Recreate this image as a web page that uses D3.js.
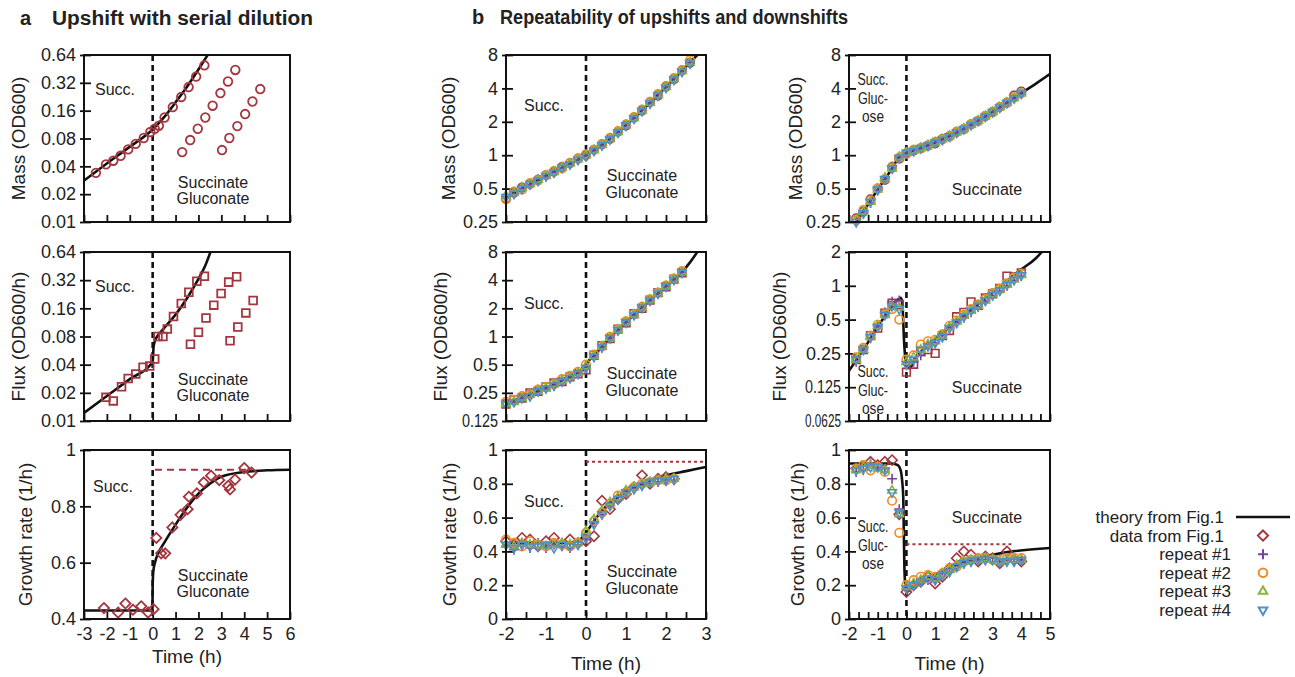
<!DOCTYPE html>
<html>
<head>
<meta charset="utf-8">
<script src="https://cdn.jsdelivr.net/npm/d3@7"></script>
<style>
  body { margin: 0; background: #fff; }
  text { font-family: "Liberation Sans", Arial, Helvetica, sans-serif; fill: #222; }
</style>
</head>
<body>
<svg id="fig" width="1295" height="677"></svg>
<script>
// ---------- panel a: upshift with serial dilution ----------
const aMassTime  = [-2.48,-2.04,-1.72,-1.40,-1.07,-0.74,-0.39,-0.10,0.09,0.27,0.52,0.88,1.25,1.57,1.90,2.26,
                    1.29,1.64,1.97,2.30,2.62,2.96,3.29,3.61,
                    3.03,3.35,3.70,4.04,4.36,4.70];
const aMassValue = [0.034,0.042,0.046,0.052,0.061,0.070,0.081,0.094,0.102,0.110,0.135,0.175,0.225,0.288,0.374,0.495,
                    0.057,0.077,0.102,0.135,0.181,0.248,0.331,0.441,
                    0.060,0.081,0.109,0.147,0.201,0.274];
const aMassTheoryT = [-3,-2,-1,0,0.5,1,1.5,2,2.5];
const aMassTheoryV = [0.028,0.043,0.065,0.10,0.136,0.197,0.29,0.446,0.70];

const aFluxTime  = [-2.04,-1.72,-1.36,-1.07,-0.74,-0.42,-0.13,0.09,0.23,0.45,0.64,0.91,1.25,1.58,1.93,2.26,
                    1.65,2.00,2.33,2.67,2.99,3.32,3.67,
                    3.38,3.72,4.07,4.39];
const aFluxValue = [0.0179,0.0164,0.0232,0.0285,0.0318,0.0375,0.0387,0.046,0.080,0.080,0.096,0.131,0.180,0.238,0.312,0.353,
                    0.066,0.089,0.126,0.173,0.230,0.305,0.348,
                    0.072,0.101,0.143,0.194];
const aFluxTheoryT = [-3,-2,-1,0,0.04,0.12,0.3,0.6,1,1.5,2,2.3,2.6];
const aFluxTheoryV = [0.0122,0.0185,0.028,0.043,0.062,0.074,0.086,0.105,0.137,0.205,0.33,0.46,0.72];

const aGrowthTime  = [-2.13,-1.51,-1.19,-0.86,-0.50,-0.20,0.04,0.16,0.37,0.55,0.86,1.22,1.53,1.58,1.93,2.23,2.55,2.91,3.30,3.38,3.60,4.00,4.32];
const aGrowthValue = [0.439,0.423,0.455,0.433,0.445,0.423,0.435,0.688,0.633,0.633,0.725,0.770,0.790,0.834,0.846,0.885,0.909,0.893,0.873,0.860,0.895,0.936,0.920];
const aGrowthTheoryT = [-3,-0.01,0,0.03,0.1,0.25,0.5,1,1.5,2,2.5,3,4,5,6];
const aGrowthTheoryV = [0.43,0.43,0.52,0.57,0.60,0.635,0.67,0.735,0.795,0.845,0.88,0.905,0.922,0.928,0.93];
const aTarget = { value: 0.93, from: 0.1, to: 4.35 };

// ---------- panel b, middle column: upshift repeats ----------
const bMassTime = [-2,-1.8,-1.6,-1.4,-1.2,-1,-0.8,-0.6,-0.4,-0.2,0,0.2,0.4,0.6,0.8,1,1.2,1.4,1.6,1.8,2,2.2,2.4,2.6];
const bMassData = [0.41,0.46,0.51,0.55,0.60,0.66,0.71,0.78,0.85,0.93,1.00,1.12,1.25,1.40,1.63,1.85,2.18,2.52,3.00,3.45,4.15,4.85,5.80,6.80];
const bMassRep1 = [0.42,0.45,0.50,0.54,0.61,0.64,0.70,0.77,0.83,0.91,0.99,1.10,1.23,1.42,1.60,1.88,2.15,2.55,2.95,3.52,4.10,4.90,5.70,6.90];
const bMassRep2 = [0.40,0.47,0.49,0.56,0.59,0.66,0.72,0.76,0.85,0.93,1.02,1.12,1.26,1.43,1.64,1.90,2.20,2.58,3.02,3.55,4.20,4.95,5.85,7.20];
const bMassRep3 = [0.43,0.46,0.51,0.55,0.60,0.65,0.71,0.78,0.84,0.92,1.00,1.11,1.24,1.40,1.62,1.86,2.16,2.53,2.97,3.48,4.12,4.86,5.75,6.85];
const bMassRep4 = [0.42,0.45,0.50,0.55,0.59,0.65,0.70,0.77,0.83,0.91,0.98,1.10,1.23,1.39,1.60,1.85,2.14,2.50,2.93,3.45,4.05,4.80,5.65,6.70];
const bMassTheoryT = [-2,-1,0,0.2,0.4,0.6,0.8,1,1.4,1.8,2.2,2.6,2.8];
const bMassTheoryV = [0.42,0.65,1.0,1.11,1.24,1.41,1.62,1.87,2.54,3.5,4.88,6.86,8.1];

const bFluxTime = [-2,-1.8,-1.6,-1.4,-1.2,-1,-0.8,-0.6,-0.4,-0.2,0,0.2,0.4,0.6,0.8,1,1.2,1.4,1.6,1.8,2,2.2,2.4];
const bFluxData = [0.19,0.21,0.22,0.25,0.26,0.29,0.32,0.33,0.37,0.40,0.44,0.63,0.80,0.95,1.20,1.40,1.75,2.00,2.45,2.95,3.40,4.10,4.80];
const bFluxRep1 = [0.18,0.20,0.22,0.24,0.27,0.28,0.30,0.34,0.36,0.41,0.47,0.60,0.76,0.96,1.16,1.42,1.70,2.06,2.42,2.88,3.45,4.05,4.85];
const bFluxRep2 = [0.20,0.21,0.23,0.24,0.27,0.29,0.31,0.35,0.38,0.42,0.50,0.64,0.79,0.99,1.19,1.45,1.74,2.08,2.50,2.95,3.50,4.15,5.00];
const bFluxRep3 = [0.19,0.20,0.22,0.24,0.26,0.28,0.31,0.34,0.37,0.41,0.48,0.62,0.78,0.97,1.18,1.43,1.72,2.05,2.45,2.90,3.45,4.10,4.90];
const bFluxRep4 = [0.19,0.20,0.22,0.23,0.26,0.28,0.30,0.33,0.36,0.40,0.46,0.61,0.77,0.96,1.17,1.41,1.70,2.03,2.43,2.88,3.42,4.05,4.80];
const bFluxTheoryT = [-2,-1,-0.5,-0.2,0,0.03,0.2,0.4,0.6,0.8,1,1.2,1.4,1.6,1.8,2,2.2,2.4,2.6,2.8];
const bFluxTheoryV = [0.19,0.285,0.355,0.41,0.46,0.52,0.62,0.78,0.97,1.18,1.42,1.72,2.05,2.45,2.9,3.45,4.1,4.9,6.2,8.2];

const bGrowthTime = [-2,-1.8,-1.6,-1.4,-1.2,-1,-0.8,-0.6,-0.4,-0.2,0,0.2,0.4,0.6,0.8,1,1.2,1.4,1.6,1.8,2,2.2];
const bGrowthData = [0.46,0.44,0.48,0.47,0.43,0.46,0.48,0.44,0.47,0.45,0.46,0.49,0.70,0.65,0.71,0.74,0.78,0.85,0.80,0.83,0.84,0.83];
const bGrowthRep1 = [0.43,0.41,0.44,0.42,0.45,0.42,0.44,0.43,0.42,0.44,0.47,0.57,0.62,0.67,0.72,0.75,0.77,0.79,0.80,0.81,0.82,0.82];
const bGrowthRep2 = [0.47,0.45,0.43,0.46,0.44,0.43,0.45,0.44,0.43,0.45,0.51,0.58,0.63,0.68,0.73,0.75,0.78,0.80,0.81,0.82,0.82,0.83];
const bGrowthRep3 = [0.44,0.43,0.45,0.44,0.44,0.43,0.44,0.45,0.44,0.45,0.52,0.59,0.64,0.69,0.72,0.76,0.78,0.80,0.81,0.82,0.83,0.83];
const bGrowthRep4 = [0.44,0.42,0.44,0.43,0.43,0.44,0.42,0.44,0.43,0.44,0.48,0.56,0.62,0.67,0.71,0.75,0.77,0.79,0.81,0.82,0.82,0.83];
const bGrowthTheoryT = [-2,-0.5,-0.3,-0.15,0,0.2,0.4,0.6,0.8,1,1.5,2,2.5,3];
const bGrowthTheoryV = [0.45,0.45,0.455,0.47,0.51,0.58,0.64,0.69,0.72,0.75,0.81,0.85,0.875,0.90];
const bTarget = { value: 0.93, from: 0, to: 3 };

// ---------- panel b, right column: downshift repeats ----------
const cTime = [-1.75,-1.5,-1.25,-1,-0.75,-0.5,-0.25,0,0.25,0.5,0.75,1,1.25,1.5,1.75,2,2.25,2.5,2.75,3,3.25,3.5,3.75,4];
const cMassData = [0.27,0.31,0.40,0.50,0.60,0.78,0.93,1.04,1.10,1.15,1.22,1.28,1.40,1.48,1.62,1.72,1.90,2.04,2.25,2.45,2.72,2.98,3.45,3.75];
const cMassRep1 = [0.25,0.30,0.37,0.48,0.63,0.79,0.97,1.06,1.11,1.17,1.24,1.31,1.38,1.50,1.60,1.74,1.87,2.05,2.22,2.47,2.68,2.95,3.25,3.55];
const cMassRep2 = [0.26,0.32,0.39,0.50,0.61,0.77,0.95,1.03,1.12,1.15,1.21,1.32,1.39,1.47,1.62,1.72,1.90,2.03,2.26,2.43,2.72,2.96,3.30,3.60];
const cMassRep3 = [0.26,0.31,0.38,0.49,0.62,0.76,0.96,1.05,1.10,1.16,1.23,1.30,1.39,1.49,1.61,1.73,1.88,2.05,2.24,2.46,2.70,2.97,3.28,3.62];
const cMassRep4 = [0.25,0.30,0.38,0.49,0.61,0.76,0.95,1.05,1.09,1.16,1.22,1.30,1.38,1.48,1.60,1.72,1.87,2.04,2.23,2.45,2.69,2.95,3.26,3.60];
const cMassTheoryT = [-1.8,-1.5,-1,-0.5,-0.25,-0.1,0,0.5,1,1.5,2,2.5,3,3.5,4,4.5,5];
const cMassTheoryV = [0.24,0.31,0.49,0.76,0.96,1.02,1.05,1.16,1.30,1.49,1.73,2.05,2.46,2.97,3.62,4.4,5.4];

const cFluxData = [0.22,0.27,0.36,0.42,0.57,0.70,0.68,0.17,0.20,0.26,0.27,0.25,0.36,0.40,0.53,0.58,0.72,0.67,0.78,0.85,0.95,1.22,1.20,1.30];
const cFluxRep1 = [0.21,0.27,0.34,0.44,0.58,0.72,0.74,0.20,0.21,0.24,0.30,0.31,0.36,0.42,0.47,0.52,0.58,0.65,0.73,0.82,0.90,1.00,1.12,1.22];
const cFluxRep2 = [0.23,0.28,0.36,0.45,0.56,0.62,0.50,0.22,0.24,0.30,0.32,0.33,0.37,0.44,0.49,0.55,0.62,0.68,0.76,0.86,0.94,1.05,1.18,1.28];
const cFluxRep3 = [0.22,0.27,0.35,0.44,0.55,0.65,0.64,0.21,0.23,0.27,0.30,0.32,0.36,0.43,0.48,0.54,0.60,0.67,0.74,0.84,0.92,1.02,1.14,1.25];
const cFluxRep4 = [0.22,0.27,0.35,0.43,0.55,0.66,0.62,0.20,0.22,0.27,0.29,0.31,0.35,0.42,0.47,0.53,0.60,0.66,0.74,0.83,0.91,1.02,1.13,1.24];
const cFluxTheoryT = [-2,-1.5,-1,-0.5,-0.3,-0.2,-0.15,-0.12,-0.09,-0.05,0,0.1,0.36,0.7,1.05,1.5,2,2.5,3,3.5,4,4.5,4.75];
const cFluxTheoryV = [0.175,0.27,0.43,0.66,0.75,0.78,0.72,0.55,0.35,0.24,0.19,0.185,0.235,0.29,0.35,0.43,0.54,0.69,0.88,1.1,1.4,1.75,2.05];

const cGrowthData = [0.89,0.90,0.93,0.91,0.93,0.94,0.62,0.16,0.20,0.22,0.25,0.21,0.25,0.30,0.36,0.40,0.38,0.34,0.37,0.36,0.33,0.40,0.35,0.34];
const cGrowthRep1 = [0.87,0.88,0.92,0.90,0.89,0.83,0.65,0.18,0.21,0.22,0.23,0.24,0.27,0.28,0.31,0.33,0.34,0.35,0.35,0.36,0.34,0.35,0.34,0.35];
const cGrowthRep2 = [0.89,0.91,0.88,0.90,0.87,0.70,0.51,0.20,0.23,0.25,0.26,0.25,0.27,0.30,0.31,0.34,0.35,0.36,0.36,0.35,0.35,0.36,0.36,0.36];
const cGrowthRep3 = [0.88,0.90,0.91,0.89,0.88,0.76,0.62,0.19,0.21,0.23,0.25,0.24,0.27,0.29,0.32,0.34,0.35,0.35,0.36,0.35,0.34,0.35,0.35,0.35];
const cGrowthRep4 = [0.88,0.89,0.90,0.90,0.88,0.75,0.63,0.18,0.20,0.22,0.24,0.23,0.26,0.28,0.31,0.33,0.34,0.35,0.35,0.35,0.34,0.34,0.34,0.35];
const cGrowthTheoryT = [-2,-0.5,-0.3,-0.2,-0.15,-0.11,-0.09,-0.07,-0.04,0,0.2,0.7,1.4,2.3,3,3.7,5];
const cGrowthTheoryV = [0.92,0.92,0.91,0.88,0.82,0.72,0.5,0.3,0.2,0.16,0.19,0.236,0.295,0.354,0.38,0.40,0.42];
const cTarget = { value: 0.443, from: 0, to: 3.67 };

const legendLabels = ['theory from Fig.1', 'data from Fig.1', 'repeat #1', 'repeat #2', 'repeat #3', 'repeat #4'];

// ---------- styles ----------
const RED = '#a3363f', PURPLE = '#7b3f9e', ORANGE = '#f28b26', GREEN = '#8ab43c', BLUE = '#4d92c9';
const FONT_TICK = 18, FONT_TITLE = 19, FONT_NOTE = 16;

const symbols = {
  circle: d3.symbol(d3.symbolCircle, 58),
  square: d3.symbol(d3.symbolSquare2, 76),
  diamond: d3.symbol(d3.symbolDiamond2, 66),
  plus: d3.symbol(d3.symbolPlus, 34),
  triUp: d3.symbol(d3.symbolTriangle2, 52),
  triDown: d3.symbol(d3.symbolTriangle2, 52)
};

const svg = d3.select('#fig');
svg.append('rect').attr('width', 1295).attr('height', 677).attr('fill', '#fff');

function repeats(t, data, dataShape, r1, r2, r3, r4) {
  return [
    { t: t, v: data, shape: dataShape, color: RED },
    { t: t, v: r1, shape: 'plus', color: PURPLE },
    { t: t, v: r2, shape: 'circle', color: ORANGE },
    { t: t, v: r3, shape: 'triUp', color: GREEN },
    { t: t, v: r4, shape: 'triDown', color: BLUE }
  ];
}

const COL = [{ left: 84, w: 206 }, { left: 506, w: 200 }, { left: 849, w: 201 }];
const ROW = [{ top: 55, h: 167 }, { top: 252, h: 169 }, { top: 450, h: 169 }];

const notesUpA = [{ text: 'Succ.', x: 11, y: 40, anchor: 'start' },
                  { text: 'Succinate', x: 129, y: 133 }, { text: 'Gluconate', x: 129, y: 149 }];
const notesUpB = (y0) => [{ text: 'Succ.', x: 18, y: y0, anchor: 'start' },
                  { text: 'Succinate', x: 136, y: y0 + 70 }, { text: 'Gluconate', x: 136, y: y0 + 87 }];
const notesDown = (y0, ys) => [{ text: 'Succ.', x: 24, y: y0, len: 31 }, { text: 'Gluc-', x: 24, y: y0 + 19, len: 30 },
                  { text: 'ose', x: 24, y: y0 + 37, len: 22 }, { text: 'Succinate', x: 138, y: ys }];

const panels = [
  { id: 'aMass', col: 0, row: 0, xDomain: [-3, 6], xStep: 1, log: true, yDomain: [0.01, 0.64],
    yTicks: [0.01,0.02,0.04,0.08,0.16,0.32,0.64], yTitle: 'Mass (OD600)', yTitleX: 18,
    theory: [aMassTheoryT, aMassTheoryV], series: [{ t: aMassTime, v: aMassValue, shape: 'circle', color: RED, big: true }],
    notes: notesUpA },
  { id: 'aFlux', col: 0, row: 1, xDomain: [-3, 6], xStep: 1, log: true, yDomain: [0.01, 0.64],
    yTicks: [0.01,0.02,0.04,0.08,0.16,0.32,0.64], yTitle: 'Flux (OD600/h)', yTitleX: 18,
    theory: [aFluxTheoryT, aFluxTheoryV], series: [{ t: aFluxTime, v: aFluxValue, shape: 'square', color: RED, big: true }],
    notes: notesUpA },
  { id: 'aGrowth', col: 0, row: 2, xDomain: [-3, 6], xStep: 1, log: false, yDomain: [0.4, 1],
    yTicks: [0.4,0.6,0.8,1], yTitle: 'Growth rate (1/h)', yTitleX: 25, xLabels: true, xTitleY: 663,
    theory: [aGrowthTheoryT, aGrowthTheoryV], series: [{ t: aGrowthTime, v: aGrowthValue, shape: 'diamond', color: RED, big: true }],
    target: aTarget, targetDash: '7,5',
    notes: [{ text: 'Succ.', x: 9, y: 42, anchor: 'start' }, { text: 'Succinate', x: 129, y: 131 }, { text: 'Gluconate', x: 129, y: 147 }] },

  { id: 'bMass', col: 1, row: 0, xDomain: [-2, 3], xStep: 0.5, log: true, yDomain: [0.25, 8],
    yTicks: [0.25,0.5,1,2,4,8], yTitle: 'Mass (OD600)', yTitleX: 448,
    theory: [bMassTheoryT, bMassTheoryV], series: repeats(bMassTime, bMassData, 'circle', bMassRep1, bMassRep2, bMassRep3, bMassRep4),
    notes: notesUpB(56) },
  { id: 'bFlux', col: 1, row: 1, xDomain: [-2, 3], xStep: 0.5, log: true, yDomain: [0.125, 8],
    yTicks: [0.125,0.25,0.5,1,2,4,8], yTitle: 'Flux (OD600/h)', yTitleX: 440,
    theory: [bFluxTheoryT, bFluxTheoryV], series: repeats(bFluxTime, bFluxData, 'square', bFluxRep1, bFluxRep2, bFluxRep3, bFluxRep4),
    notes: notesUpB(57) },
  { id: 'bGrowth', col: 1, row: 2, xDomain: [-2, 3], xStep: 0.5, log: false, yDomain: [0, 1],
    yTicks: [0,0.2,0.4,0.6,0.8,1], yTitle: 'Growth rate (1/h)', yTitleX: 449, xLabels: true, xTitleY: 670,
    theory: [bGrowthTheoryT, bGrowthTheoryV], series: repeats(bGrowthTime, bGrowthData, 'diamond', bGrowthRep1, bGrowthRep2, bGrowthRep3, bGrowthRep4),
    target: bTarget, targetDash: '3,3',
    notes: notesUpB(57) },

  { id: 'cMass', col: 2, row: 0, xDomain: [-2, 5], xStep: 1 / 3, log: true, yDomain: [0.25, 8],
    yTicks: [0.25,0.5,1,2,4,8], yTitle: 'Mass (OD600)', yTitleX: 795,
    theory: [cMassTheoryT, cMassTheoryV], series: repeats(cTime, cMassData, 'circle', cMassRep1, cMassRep2, cMassRep3, cMassRep4),
    notes: notesDown(30, 140) },
  { id: 'cFlux', col: 2, row: 1, xDomain: [-2, 5], xStep: 1 / 3, log: true, yDomain: [0.0625, 2],
    yTicks: [0.0625,0.125,0.25,0.5,1,2], yTitle: 'Flux (OD600/h)', yTitleX: 779,
    theory: [cFluxTheoryT, cFluxTheoryV], series: repeats(cTime, cFluxData, 'square', cFluxRep1, cFluxRep2, cFluxRep3, cFluxRep4),
    notes: notesDown(125, 141) },
  { id: 'cGrowth', col: 2, row: 2, xDomain: [-2, 5], xStep: 1 / 3, log: false, yDomain: [0, 1],
    yTicks: [0,0.2,0.4,0.6,0.8,1], yTitle: 'Growth rate (1/h)', yTitleX: 797, xLabels: true, xTitleY: 670,
    theory: [cGrowthTheoryT, cGrowthTheoryV], series: repeats(cTime, cGrowthData, 'diamond', cGrowthRep1, cGrowthRep2, cGrowthRep3, cGrowthRep4),
    target: cTarget, targetDash: '3,3',
    notes: notesDown(82, 73) }
];

function drawPanel(p) {
  const left = COL[p.col].left, w = COL[p.col].w;
  const top = ROW[p.row].top, h = ROW[p.row].h;
  const g = svg.append('g').attr('transform', `translate(${left},${top})`);

  const x = d3.scaleLinear().domain(p.xDomain).range([0, w]);
  const y = (p.log ? d3.scaleLog().base(2) : d3.scaleLinear()).domain(p.yDomain).range([h, 0]);

  g.append('clipPath').attr('id', 'clip-' + p.id)
    .append('rect').attr('width', w).attr('height', h);

  // bottom axis: ticks point into the plot, integer labels on the last row only
  const xTicks = d3.range(p.xDomain[0], p.xDomain[1] + 1e-6, p.xStep);
  const xa = g.append('g').attr('transform', `translate(0,${h})`)
    .call(d3.axisBottom(x).tickValues(xTicks).tickSize(-7).tickPadding(8)
      .tickFormat(d => (p.xLabels && Math.abs(d - Math.round(d)) < 1e-6) ? String(Math.round(d)) : ''));
  xa.attr('font-size', null).attr('font-family', null);
  xa.select('.domain').remove();
  xa.selectAll('line').attr('stroke', '#111').attr('stroke-width', 1.8);
  xa.selectAll('text').attr('font-size', FONT_TICK).attr('fill', '#222');

  const ya = g.append('g')
    .call(d3.axisLeft(y).tickValues(p.yTicks).tickSize(-7).tickPadding(8).tickFormat(d => String(d)));
  ya.attr('font-size', null).attr('font-family', null);
  ya.select('.domain').remove();
  ya.selectAll('line').attr('x1', -4).attr('stroke', '#111').attr('stroke-width', 1.8);
  ya.selectAll('text').attr('font-size', FONT_TICK).attr('fill', '#222')
    .each(function () {
      if (this.getComputedTextLength() > 36) {
        d3.select(this).attr('textLength', 36).attr('lengthAdjust', 'spacingAndGlyphs');
      }
    });

  // theory curve
  const line = d3.line().x(d => x(d[0])).y(d => y(d[1])).curve(d3.curveMonotoneX);
  g.append('path')
    .datum(d3.zip(p.theory[0], p.theory[1]))
    .attr('clip-path', `url(#clip-${p.id})`)
    .attr('d', line)
    .attr('fill', 'none').attr('stroke', '#111').attr('stroke-width', 2.6);

  // shift time
  g.append('line')
    .attr('x1', x(0)).attr('x2', x(0)).attr('y1', 0).attr('y2', h)
    .attr('stroke', '#111').attr('stroke-width', 2.6).attr('stroke-dasharray', '6,4');

  // steady-state growth rate of the new medium
  if (p.target) {
    g.append('line')
      .attr('x1', x(p.target.from)).attr('x2', x(p.target.to))
      .attr('y1', y(p.target.value)).attr('y2', y(p.target.value))
      .attr('stroke', RED).attr('stroke-width', 2).attr('stroke-dasharray', p.targetDash);
  }

  // data markers
  p.series.forEach(s => {
    g.append('g').selectAll('path')
      .data(d3.zip(s.t, s.v))
      .join('path')
      .attr('transform', d => `translate(${x(d[0])},${y(d[1])})` + (s.shape === 'triDown' ? ' rotate(180)' : ''))
      .attr('d', symbols[s.shape])
      .attr('fill', 'none')
      .attr('stroke', s.color)
      .attr('stroke-width', s.big ? 1.8 : 1.6);
  });

  // frame
  g.append('rect').attr('width', w).attr('height', h)
    .attr('fill', 'none').attr('stroke', '#111').attr('stroke-width', 2);

  // medium labels
  p.notes.forEach(n => {
    const t = g.append('text')
      .attr('x', n.x).attr('y', n.y)
      .attr('text-anchor', n.anchor || 'middle')
      .attr('font-size', FONT_NOTE)
      .text(n.text);
    if (n.len) t.attr('textLength', n.len).attr('lengthAdjust', 'spacingAndGlyphs');
  });

  // axis titles
  svg.append('text')
    .attr('transform', `translate(${p.yTitleX},${top + h / 2}) rotate(-90)`)
    .attr('text-anchor', 'middle').attr('dy', '0.35em')
    .attr('font-size', FONT_TITLE)
    .text(p.yTitle);

  if (p.xTitleY) {
    svg.append('text')
      .attr('x', left + w / 2).attr('y', p.xTitleY)
      .attr('text-anchor', 'middle')
      .attr('font-size', FONT_TITLE)
      .text('Time (h)');
  }
}

panels.forEach(drawPanel);

// panel headings
svg.append('text').attr('x', 20).attr('y', 25).attr('font-size', 20).attr('font-weight', 'bold').text('a');
svg.append('text').attr('x', 52).attr('y', 25).attr('font-size', 20).attr('font-weight', 'bold')
  .attr('textLength', 261).attr('lengthAdjust', 'spacingAndGlyphs').text('Upshift with serial dilution');
svg.append('text').attr('x', 472).attr('y', 24).attr('font-size', 20).attr('font-weight', 'bold').text('b');
svg.append('text').attr('x', 500).attr('y', 24).attr('font-size', 20).attr('font-weight', 'bold')
  .attr('textLength', 348).attr('lengthAdjust', 'spacingAndGlyphs').text('Repeatability of upshifts and downshifts');

// legend
const legendShapes = [null, 'diamond', 'plus', 'circle', 'triUp', 'triDown'];
const legendColors = ['#111', RED, PURPLE, ORANGE, GREEN, BLUE];
const legend = svg.append('g');
legendLabels.forEach((label, i) => {
  const cy = 517 + i * 18.6;
  legend.append('text')
    .attr('x', i < 2 ? 1224 : 1231).attr('y', cy).attr('dy', '0.35em')
    .attr('text-anchor', 'end').attr('font-size', 17)
    .text(label);
  if (i === 0) {
    legend.append('line').attr('x1', 1236).attr('x2', 1290).attr('y1', cy).attr('y2', cy)
      .attr('stroke', '#111').attr('stroke-width', 2.6);
  } else {
    legend.append('path')
      .attr('transform', `translate(1263,${cy})` + (legendShapes[i] === 'triDown' ? ' rotate(180)' : ''))
      .attr('d', symbols[legendShapes[i]])
      .attr('fill', 'none').attr('stroke', legendColors[i]).attr('stroke-width', 2);
  }
});
</script>
</body>
</html>
